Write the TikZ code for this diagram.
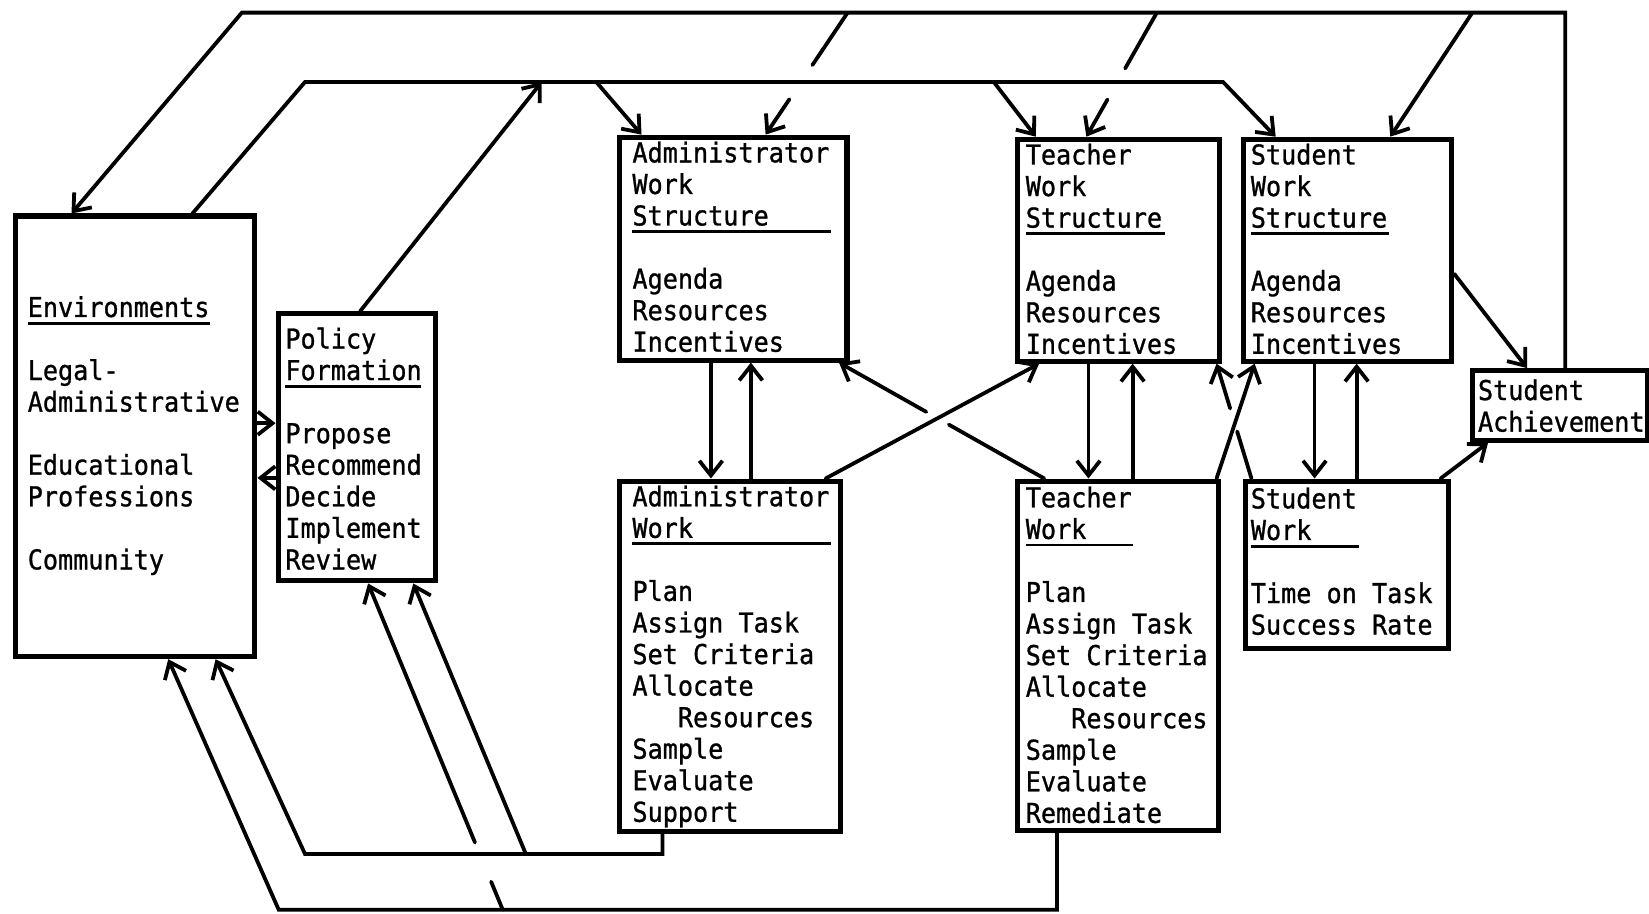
\documentclass[tikz,border=0pt]{standalone}
\usepackage{fontspec}
\newfontfamily\twfont[FakeStretch=0.92,FakeBold=1]{DejaVu Sans Mono}
\usetikzlibrary{arrows.meta}
\newcommand{\mystrut}{\rule{0pt}{12pt}}
\newcommand{\hdul}[2]{\rlap{\rule[-3.6pt]{#1}{1.4pt}}#2}
\begin{document}
\begin{tikzpicture}[x=0.5pt,y=-0.5pt,
  box/.style={draw, line width=2.4pt, anchor=north west, inner sep=0pt},
  txt/.style={anchor=north west, inner sep=0pt, align=left, font=\twfont\fontsize{13pt}{15pt}\selectfont},
  conn/.style={line width=1.8pt, line cap=round},
  arr/.style={conn, -{Straight Barb[length=7pt,width=11pt,line width=1.8pt]}},
]
\path[use as bounding box, fill=white] (0,0) rectangle (1568,869);

% boxes
\node[box, minimum width=114pt, minimum height=209.5pt] (env) at (12,203) {};
\node[box, minimum width=75pt,  minimum height=127pt]   (pol) at (262,296) {};
\node[box, minimum width=108pt, minimum height=106pt]   (aws) at (587,128) {};
\node[box, minimum width=105pt, minimum height=166.5pt] (aw)  at (587,455) {};
\node[box, minimum width=96pt,  minimum height=105.5pt] (tws) at (965,130) {};
\node[box, minimum width=99pt,  minimum height=105.5pt] (sws) at (1180,130) {};
\node[box, minimum width=95.5pt,minimum height=166pt]   (tw)  at (965,455) {};
\node[box, minimum width=96.5pt,minimum height=79.5pt]  (sw)  at (1182,455) {};
\node[box, minimum width=83pt,  minimum height=33pt]    (sa)  at (1398,350) {};

% texts
\node[txt] (envt) at (26,277) {\mystrut\hdul{86.5pt}{Environments}\\[15pt]Legal-\\Administrative\\[15pt]Educational\\Professions\\[15pt]Community};
\node[txt] (polt) at (271,307) {\mystrut Policy\\\hdul{64.5pt}{Formation}\\[15pt]Propose\\Recommend\\Decide\\Implement\\Review};
\node[txt] (awst) at (601,130) {\mystrut Administrator\\Work\\\hdul{94.5pt}{Structure}\\[15pt]Agenda\\Resources\\Incentives};
\node[txt] (awt) at (601,457) {\mystrut Administrator\\\hdul{94.5pt}{Work}\\[15pt]Plan\\Assign Task\\Set Criteria\\Allocate\\\phantom{AAA}Resources\\Sample\\Evaluate\\Support};
\node[txt] (twst) at (975,132) {\mystrut Teacher\\Work\\\hdul{66pt}{Structure}\\[15pt]Agenda\\Resources\\Incentives};
\node[txt] (swst) at (1189,132) {\mystrut Student\\Work\\\hdul{65.5pt}{Structure}\\[15pt]Agenda\\Resources\\Incentives};
\node[txt] (twt) at (975,458) {\mystrut Teacher\\\hdul{51pt}{Work}\\[15pt]Plan\\Assign Task\\Set Criteria\\Allocate\\\phantom{AAA}Resources\\Sample\\Evaluate\\Remediate};
\node[txt] (swt) at (1189,459) {\mystrut Student\\\hdul{51.5pt}{Work}\\[15pt]Time on Task\\Success Rate};
\node[txt] (sat) at (1405,356) {\mystrut Student\\Achievement};

% top outer loop
\coordinate (tl) at (230,12);
\draw[arr] ([xshift=2.5pt]sa.north) |- (tl) -- ([xshift=28pt]env.north west);
% lower loop
\coordinate (bl) at (290,78);
\coordinate (br) at (1163,78);
\draw[arr] ([xshift=85.5pt]env.north west) -- (bl) -- (br) -- ([xshift=16.5pt]sws.north west);
\coordinate (b1) at (567,78);
\draw[arr] (b1) -- ([xshift=11.5pt]aws.north west);
\coordinate (b2) at (945,78);
\draw[arr] (b2) -- ([xshift=10pt]tws.north west);
\coordinate (b3) at (515,78);
\draw[arr] ([xshift=1.5pt]pol.north) -- (b3);

% branches from top line
\coordinate (t1) at (806,12);
\path (t1) -- ([xshift=70.5pt]aws.north west) coordinate[pos=0.43] (g1a) coordinate[pos=0.71] (g1b);
\draw[conn] (t1) -- (g1a);
\draw[arr] (g1b) -- ([xshift=70.5pt]aws.north west);
\coordinate (t2) at (1100,12);
\path (t2) -- ([xshift=34pt]tws.north west) coordinate[pos=0.45] (g2a) coordinate[pos=0.70] (g2b);
\draw[conn] (t2) -- (g2a);
\draw[arr] (g2b) -- ([xshift=34pt]tws.north west);
\coordinate (t3) at (1400,12);
\draw[arr] (t3) -- ([xshift=71pt]sws.north west);

% environments <-> policy
\coordinate (e1) at ([yshift=6.25pt]env.east);
\draw[arr] (e1) -- (e1 -| pol.west);
\coordinate (p1) at ([yshift=-14.5pt]pol.west);
\draw[arr] (p1) -- (p1 -| env.east);

% structure <-> work verticals
\coordinate (a1) at ([xshift=44.5pt]aws.south west);
\draw[arr] (a1) -- (a1 |- aw.north);
\coordinate (a2) at ([xshift=63.5pt]aw.north west);
\draw[arr] (a2) -- (a2 |- aws.south);
\coordinate (v1) at ([xshift=35pt]tws.south west);
\draw[arr] (v1) -- (v1 |- tw.north);
\coordinate (v2) at ([xshift=56pt]tw.north west);
\draw[arr] (v2) -- (v2 |- tws.south);
\coordinate (s1) at ([xshift=35pt]sws.south west);
\draw[arr] (s1) -- (s1 |- sw.north);
\coordinate (s2) at ([xshift=54pt]sw.north west);
\draw[arr] (s2) -- (s2 |- sws.south);

% cross connections
\draw[arr] ([xshift=99pt]aw.north west) -- ([xshift=11.5pt]tws.south west);
\path ([xshift=14pt]tw.north west) -- ([xshift=-5pt]aws.south east) coordinate[pos=0.465] (x1a) coordinate[pos=0.575] (x1b);
\draw[conn] ([xshift=14pt]tw.north west) -- (x1a);
\draw[arr] (x1b) -- ([xshift=-5pt]aws.south east);
\draw[arr] ([xshift=-2pt]tw.north east) -- ([xshift=6.5pt]sws.south west);
\path ([xshift=4pt]sw.north west) -- ([xshift=-2.5pt]tws.south east) coordinate[pos=0.41] (x2a) coordinate[pos=0.61] (x2b);
\draw[conn] ([xshift=4pt]sw.north west) -- (x2a);
\draw[arr] (x2b) -- ([xshift=-2.5pt]tws.south east);
\draw[arr] ([yshift=-11.25pt]sws.east) -- ([xshift=27pt]sa.north west);
\draw[arr] ([xshift=-5pt]sw.north east) -- ([xshift=8.5pt]sa.south west);

% bottom feedback loops
\coordinate (c23) at (290,812);
\draw[arr] ([xshift=21.5pt]aw.south west) |- (c23) -- ([xshift=96.5pt]env.south west);
\coordinate (c24) at (500,812);
\draw[arr] (c24) -- ([xshift=65.5pt]pol.south west);
\coordinate (c25) at (265,865);
\draw[arr] ([xshift=20pt]tw.south west) |- (c25) -- ([xshift=74pt]env.south west);
\coordinate (c26) at (478,865);
\path (c26) -- ([xshift=44pt]pol.south west) coordinate[pos=0.086] (g3a) coordinate[pos=0.206] (g3b);
\draw[conn] (c26) -- (g3a);
\draw[arr] (g3b) -- ([xshift=44pt]pol.south west);
\end{tikzpicture}
\end{document}
